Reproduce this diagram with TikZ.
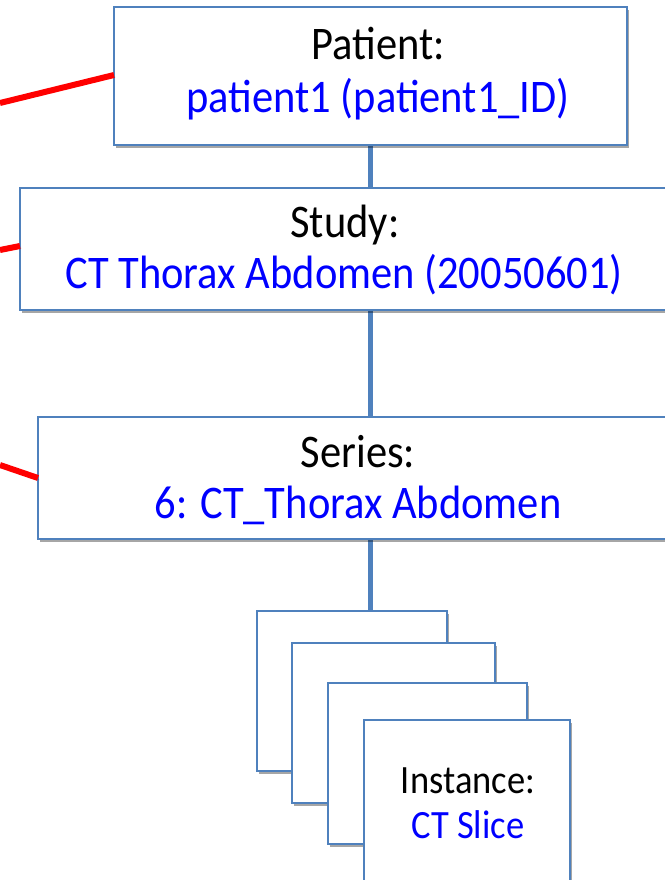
\documentclass[tikz,border=0pt]{standalone}
\usepackage{fontspec}
\setmainfont{Carlito}
\usetikzlibrary{shadows,backgrounds}
\definecolor{boxblue}{RGB}{79,129,189}
\definecolor{valblue}{RGB}{0,0,255}
\definecolor{linkred}{RGB}{255,0,0}
\newcommand{\talltext}[1]{\scalebox{1}[1.1]{#1}}
\tikzset{
  boxnode/.style={draw=boxblue, line width=1.8pt, fill=white, inner sep=0pt, outer sep=0pt,
    drop shadow={shadow xshift=2pt, shadow yshift=-3pt, opacity=0.35, fill=black}},
  keytext/.style={anchor=base, inner sep=0pt, text=black, font=\fontsize{42.5}{50}\selectfont},
  valtext/.style={anchor=base, inner sep=0pt, text=valblue, font=\fontsize{42.5}{50}\selectfont},
  ikeytext/.style={anchor=base, inner sep=0pt, text=black, font=\fontsize{36.5}{44}\selectfont},
  ivaltext/.style={anchor=base, inner sep=0pt, text=valblue, font=\fontsize{36.5}{44}\selectfont},
  lineshadow/.style={preaction={draw=black, opacity=0.2, transform canvas={xshift=1.5pt, yshift=-2pt}}},
  trunk/.style={draw=boxblue, line width=5.5pt, lineshadow},
  redlink/.style={draw=linkred, line width=6pt, lineshadow}
}
\begin{document}
\begin{tikzpicture}[x=1pt,y=-1pt]
\useasboundingbox (0,0) rectangle (664,880);
% boxes
\node[boxnode, minimum width=513pt, minimum height=138pt] (patient) at (370.5,76) {};
\node[boxnode, minimum width=670pt, minimum height=122pt] (study) at (355,249) {};
\node[boxnode, minimum width=652pt, minimum height=122pt] (series) at (364,478) {};
\node[boxnode, minimum width=190pt, minimum height=160pt] (inst1) at (352,691) {};
\node[boxnode, minimum width=203pt, minimum height=160pt] (inst2) at (393.5,723) {};
\node[boxnode, minimum width=199pt, minimum height=161pt] (inst3) at (427.5,763.5) {};
\node[boxnode, minimum width=206pt, minimum height=180pt] (inst4) at (467,810) {};
% texts
\node[keytext] (patientK) at (378,60) {\talltext{Patient:}};
\node[valtext] (patientV) at (378,113) {\talltext{patient1 (patient1\_ID)}};
\node[keytext] (studyK) at (345,237) {\talltext{Study:}};
\node[valtext] (studyV) at (344,288) {\talltext{CT Thorax Abdomen (20050601)}};
\node[keytext] (seriesK) at (358,467) {\talltext{Series:}};
\node[valtext] (seriesV) at (358,518) {\talltext{6: CT\_Thorax Abdomen}};
\node[ikeytext] (instK) at (468,793) {\talltext{Instance:}};
\node[ivaltext] (instV) at (468,838) {\talltext{CT Slice}};
% free ends of red links
\coordinate (r1) at (0,103);
\coordinate (r2) at (0,250);
\coordinate (r3) at (0,465);
\begin{pgfonlayer}{background}
\draw[trunk] (patient.south) -- (patient.south |- inst1.north);
\end{pgfonlayer}
\draw[redlink] (r1) -- (patient.west |- 0,75);
\draw[redlink] (r2) -- (study.west |- 0,246);
\draw[redlink] (r3) -- (series.west |- 0,478);
\end{tikzpicture}
\end{document}
